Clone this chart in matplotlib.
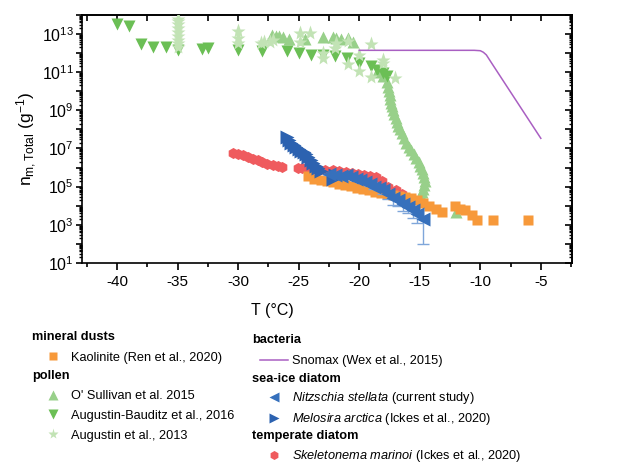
import numpy as np
import matplotlib
matplotlib.use("Agg")
import matplotlib.pyplot as plt
from matplotlib.lines import Line2D
from matplotlib.ticker import LogLocator, FuncFormatter, MultipleLocator, NullFormatter

plt.rcParams['font.family'] = ['Liberation Sans', 'DejaVu Sans']
plt.rcParams['mathtext.fontset'] = 'custom'
plt.rcParams['mathtext.rm'] = 'Liberation Sans'
plt.rcParams['mathtext.it'] = 'Liberation Sans:italic'
plt.rcParams['mathtext.bf'] = 'Liberation Sans:bold'

# ---- data (y values given as log10 of n_m) ----
kaol_T = [-24.2, -23.7, -23.2, -22.7, -22.2, -21.7, -21.2, -20.7, -20.2, -19.7,
          -19.2, -18.7, -18.2, -17.7, -17.2, -16.7, -16.2, -15.7, -15.2, -14.7,
          -14.2, -13.7, -13.2, -12.1, -11.7, -11.3, -10.7, -10.3, -8.95, -6.05]
kaol_logn = [5.55, 5.42, 5.35, 5.28, 5.22, 5.15, 5.08, 5.02, 4.95, 4.88,
             4.8, 4.72, 4.66, 4.6, 4.55, 4.5, 4.45, 4.4, 4.3, 4.15,
             4.0, 3.85, 3.66, 4.0, 3.85, 3.75, 3.49, 3.23, 3.23, 3.23]

osul_T = [-27.2, -26.9, -26.6, -26.3, -25.8, -24.5, -23.0, -22.2, -21.9, -21.5,
          -20.9, -20.5, -18.5, -18.0, -17.7, -17.6, -17.55, -17.5, -17.45, -17.4,
          -17.3, -17.2, -17.1, -17.0, -16.9, -16.8, -16.65, -16.5, -16.3, -16.1,
          -15.9, -15.7, -15.5, -15.3, -15.1, -14.95, -14.8, -14.7, -14.65, -14.6,
          -14.65, -14.75, -14.85, -14.9, -12.0]
osul_logn = [12.95, 12.9, 12.87, 12.85, 12.75, 12.75, 12.85, 12.82, 12.8, 12.75,
             12.8, 12.6, 11.0, 10.8, 10.5, 10.2, 10.0, 9.8, 9.6, 9.4,
             9.2, 9.0, 8.8, 8.6, 8.4, 8.2, 8.0, 7.8, 7.55, 7.3,
             7.1, 6.9, 6.7, 6.5, 6.3, 6.1, 5.9, 5.7, 5.5, 5.3,
             5.1, 4.9, 4.7, 4.5, 3.65]

baud_T = [-40, -39, -38, -37, -36, -35, -33, -32.5, -30, -28, -26, -25, -24,
          -23, -22, -21, -20, -19, -18.5, -18, -17.7]
baud_logn = [13.5, 13.4, 12.45, 12.3, 12.3, 12.15, 12.2, 12.25, 12.14, 12.1, 12.1,
             12.0, 11.9, 11.9, 11.85, 11.75, 11.5, 11.3, 11.1, 10.95, 10.8]

aug_T = [-35, -35, -35, -35, -35, -35, -35, -35, -35, -30, -30, -30,
         -28.1, -27.9, -27.1, -27.4, -24.9, -24.9, -24.1, -23.0, -23.0, -22.0,
         -21.9, -20.9, -20.9, -20.0, -20.0, -19.0, -19.0, -18.0, -18.0, -17.05]
aug_logn = [12.3, 12.5, 12.7, 12.9, 13.1, 13.3, 13.5, 13.7, 13.8, 12.5, 12.8, 13.15,
            12.5, 12.55, 12.7, 12.6, 13.05, 12.6, 13.05, 11.75, 12.0, 12.25,
            12.5, 12.65, 11.4, 11.9, 11.05, 12.45, 10.75, 11.65, 11.45, 10.7]

snomax_T = [-20, -15, -10.5, -10.0, -9.75, -9.5, -9.0, -8.0, -7.0, -6.0, -5.0]
snomax_logn = [12.14, 12.14, 12.14, 12.12, 12.04, 11.9, 11.41, 10.44, 9.47, 8.5, 7.53]

nitz_T = [-22.5, -22.0, -21.5, -21.1, -20.7, -20.3, -19.9, -19.5, -19.1, -18.8,
          -18.4, -18.0, -17.6, -17.2, -16.8, -16.4, -16.0, -15.6, -15.2, -14.7]
nitz_logn = [5.65, 5.6, 5.55, 5.6, 5.5, 5.42, 5.35, 5.25, 5.15, 5.0,
             4.95, 4.8, 4.6, 4.4, 4.3, 4.1, 3.95, 3.75, 3.55, 3.3]
nitz_err_dn = [0.05, 0.05, 0.05, 0.05, 0.05, 0.05, 0.05, 0.05, 0.1, 0.1,
               0.15, 0.2, 0.25, 0.35, 0.3, 0.4, 0.35, 0.4, 0.45, 1.3]
nitz_err_up = [0.03, 0.03, 0.03, 0.03, 0.03, 0.03, 0.03, 0.03, 0.05, 0.05,
               0.05, 0.08, 0.1, 0.1, 0.1, 0.12, 0.12, 0.15, 0.15, 0.15]

melo_T = [-26.0, -25.8, -25.6, -25.4, -25.2, -25.0, -24.8, -24.6, -24.4, -24.2,
          -24.0, -23.8, -23.6, -23.4, -23.2, -22.2, -22.0]
melo_logn = [7.6, 7.45, 7.3, 7.2, 7.08, 6.98, 6.88, 6.8, 6.7, 6.55,
             6.4, 6.25, 6.1, 5.95, 5.8, 5.4, 5.6]

skel_T = [-30.4, -30.0, -29.6, -29.2, -28.8, -28.4, -28.0, -27.6, -27.1, -26.7,
          -26.4, -25.1, -24.7, -24.3, -23.8, -23.3, -22.8, -22.2, -21.7, -21.1,
          -20.6, -20.1, -19.6, -19.1, -18.6, -18.1, -17.6, -17.0, -16.5]
skel_logn = [6.74, 6.7, 6.65, 6.56, 6.47, 6.4, 6.3, 6.2, 6.12, 6.06,
             6.03, 5.98, 5.96, 5.95, 5.9, 5.88, 5.86, 5.85, 5.8, 5.77,
             5.7, 5.65, 5.6, 5.55, 5.5, 5.3, 4.98, 4.8, 4.63]

c_orange = '#F7993A'
c_osul = '#98D08A'
c_baud = '#6BBF55'
c_aug = '#C2E3B5'
c_snomax = '#A95FC2'
c_blue = '#3670BC'
c_blue2 = '#2C62B0'
c_err = '#7FA6DA'
c_red = '#EF5B5E'

def p10(v):
    return 10.0 ** np.asarray(v)

fig = plt.figure(figsize=(6.31, 4.63), dpi=100)
ax = fig.add_axes([0.130, 0.432, 0.776, 0.536])

ax.plot(osul_T, p10(osul_logn), '^', color=c_osul, ms=9, mec='none', zorder=2)
ax.plot(baud_T, p10(baud_logn), 'v', color=c_baud, ms=9, mec='none', zorder=3)
ax.plot(aug_T, p10(aug_logn), '*', color=c_aug, ms=11, mec='none', zorder=3)
ax.plot(snomax_T, p10(snomax_logn), '-', color=c_snomax, lw=1.1, zorder=3)
ax.plot(skel_T, p10(skel_logn), 'h', color=c_red, ms=8, mec='none', zorder=3)
ax.plot(kaol_T, p10(kaol_logn), 's', color=c_orange, ms=7.5, mec='none', zorder=4)

nitz_y = p10(nitz_logn)
lo = nitz_y - nitz_y * 10.0 ** (-np.array(nitz_err_dn))
hi = nitz_y * 10.0 ** np.array(nitz_err_up) - nitz_y
ax.errorbar(nitz_T, nitz_y, yerr=[lo, hi], fmt='none', ecolor=c_err, elinewidth=1,
            capsize=4, capthick=1, zorder=4)
ax.plot(melo_T, p10(melo_logn), '>', color=c_blue2, ms=10, mec='none', zorder=5)
ax.plot(nitz_T, nitz_y, '<', color=c_blue, ms=10, mec='none', zorder=5)

ax.set_yscale('log')
ax.set_xlim(-42.9, -2.45)
ax.set_ylim(10, 1e14)

ax.xaxis.set_major_locator(MultipleLocator(5))
ax.xaxis.set_minor_locator(MultipleLocator(2.5))
ax.yaxis.set_major_locator(LogLocator(base=10, numticks=20))
ax.yaxis.set_minor_locator(LogLocator(base=10, subs=np.arange(2, 10), numticks=20))
ax.yaxis.set_minor_formatter(NullFormatter())

def ylab(v, pos):
    e = int(round(np.log10(v)))
    if e % 2 == 1:
        return r'$10^{%d}$' % e
    return ''

ax.yaxis.set_major_formatter(FuncFormatter(ylab))
ax.xaxis.set_major_formatter(FuncFormatter(lambda v, p: '%d' % v))

ax.tick_params(axis='x', which='major', direction='out', length=5, width=1.2, labelsize=11,
               top=False, pad=4)
ax.tick_params(axis='x', which='minor', direction='out', length=3, width=1.2, top=False)
ax.tick_params(axis='y', which='major', direction='out', length=4, width=1.2, labelsize=11.5,
               right=False, pad=2)
ax.tick_params(axis='y', which='minor', direction='out', length=2.5, width=1, right=False)

# inward ticks on top and right
secx = ax.secondary_xaxis('top')
secx.xaxis.set_major_locator(MultipleLocator(5))
secx.xaxis.set_minor_locator(MultipleLocator(2.5))
secx.tick_params(which='both', direction='in', length=4, width=1.2, labeltop=False)
secy = ax.secondary_yaxis('right')
secy.set_yscale('log')
secy.yaxis.set_major_locator(LogLocator(base=10, numticks=20))
secy.yaxis.set_minor_locator(LogLocator(base=10, subs=np.arange(2, 10), numticks=20))
secy.tick_params(which='major', direction='in', length=5, width=1.2, labelright=False)
secy.tick_params(which='minor', direction='in', length=2.5, width=1, labelright=False)
secy.yaxis.set_minor_formatter(NullFormatter())

for s in ax.spines.values():
    s.set_linewidth(1.2)
for s in list(secx.spines.values()) + list(secy.spines.values()):
    s.set_linewidth(1.2)

ax.set_xlabel('T (°C)', fontsize=11.5)
ax.xaxis.set_label_coords(0.389, -0.16)
ax.set_ylabel(r'n$_{\mathrm{m,Total}}$ (g$^{\mathrm{-1}}$)', fontsize=12.5, labelpad=2)

# ---- legend ----
fs = 9.2
H = fig.get_figheight() * fig.dpi
W = fig.get_figwidth() * fig.dpi

def header(xp, yp, txt):
    fig.text(xp / W, 1 - yp / H, txt, fontsize=fs, fontweight='bold', ha='left', va='center')

def group(xp, yp, handles, labels, spacing=0.4):
    fig.legend(handles, labels, loc='upper left', bbox_to_anchor=(xp / W, 1 - yp / H),
               frameon=False, fontsize=fs, handlelength=2.2, handletextpad=0.3,
               borderpad=0, borderaxespad=0, labelspacing=spacing)

def mk(marker, color, ms):
    return Line2D([], [], ls='none', marker=marker, color=color, ms=ms, mec='none')

header(32, 337, 'mineral dusts')
group(39, 351.5, [mk('s', c_orange, 6)], ['Kaolinite (Ren et al., 2020)'])
header(32, 376, 'pollen')
group(39, 390, [mk('^', c_osul, 7), mk('v', c_baud, 7), mk('*', c_aug, 8)],
      ["O' Sullivan et al. 2015", 'Augustin-Bauditz et al., 2016', 'Augustin et al., 2013'],
      spacing=0.62)

header(252, 340, 'bacteria')
group(260, 355, [Line2D([], [], color=c_snomax, lw=1.1)], ['Snomax (Wex et al., 2015)'])
header(252, 379, 'sea-ice diatom')
group(260, 390, [mk('<', c_blue, 7), mk('>', c_blue2, 7)],
      [r'$\mathit{Nitzschia\ stellata}$ (current study)',
       r'$\mathit{Melosira\ arctica}$ (Ickes et al., 2020)'])
header(252, 436, 'temperate diatom')
group(260, 448.5, [mk('h', c_red, 6.5)], [r'$\mathit{Skeletonema\ marinoi}$ (Ickes et al., 2020)'])

fig.savefig('out.png', dpi=100)
